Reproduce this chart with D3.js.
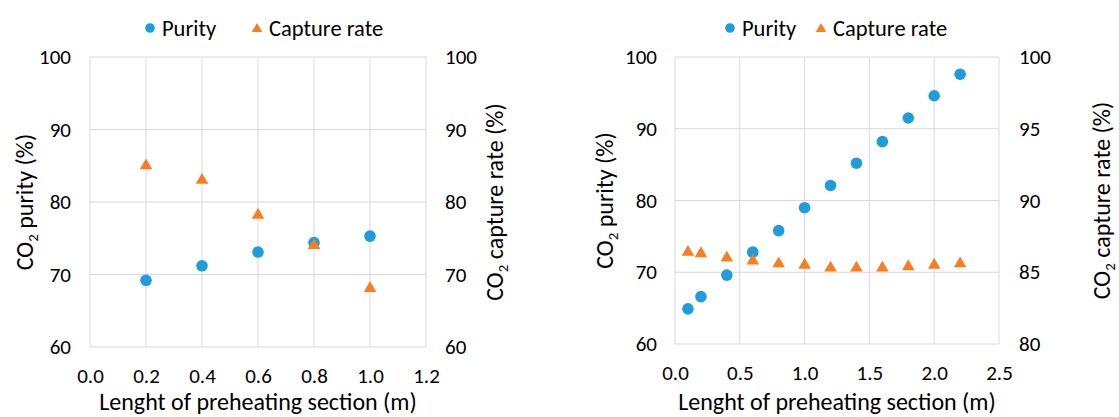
<!DOCTYPE html>
<html>
<head>
<meta charset="utf-8">
<script src="https://cdn.jsdelivr.net/npm/d3@7"></script>
<style>
  body { margin: 0; background: #fff; }
  text { font-family: Carlito, Calibri, Lato, sans-serif; fill: #000; }
</style>
</head>
<body>
<svg id="chart" width="1119" height="417"></svg>
<script>
// left panel
const leftLength = [0.2, 0.4, 0.6, 0.8, 1.0];
const leftPurity = [69.2, 71.2, 73.1, 74.4, 75.3];
const leftCapture = [85.0, 83.0, 78.2, 74.0, 68.1];
const leftXTicks = [0.0, 0.2, 0.4, 0.6, 0.8, 1.0, 1.2];
const leftYTicks = [60, 70, 80, 90, 100];
const leftY2Ticks = [60, 70, 80, 90, 100];

// right panel
const rightLength = [0.1, 0.2, 0.4, 0.6, 0.8, 1.0, 1.2, 1.4, 1.6, 1.8, 2.0, 2.2];
const rightPurity = [64.9, 66.6, 69.6, 72.8, 75.8, 79.0, 82.1, 85.2, 88.2, 91.5, 94.6, 97.6];
const rightCapture = [86.4, 86.3, 86.0, 85.8, 85.6, 85.5, 85.3, 85.3, 85.3, 85.4, 85.5, 85.6];
const rightXTicks = [0.0, 0.5, 1.0, 1.5, 2.0, 2.5];
const rightYTicks = [60, 70, 80, 90, 100];
const rightY2Ticks = [80, 85, 90, 95, 100];

const seriesNames = ["Purity", "Capture rate"];
const blue = "#1f9cdc";
const orange = "#fa7d22";
const gridColor = "#d9d9d9";

const svg = d3.select("#chart");

function co2Label(sel, rest) {
    sel.append("tspan").text("CO");
    sel.append("tspan").attr("font-size", "0.62em").attr("dy", 5).text("2");
    sel.append("tspan").attr("dy", -5).text(rest);
}

function drawPanel(opts) {
    const g = svg.append("g");
    const x = d3.scaleLinear().domain(d3.extent(opts.xTicks)).range([opts.left, opts.right]);
    const y = d3.scaleLinear().domain(d3.extent(opts.yTicks)).range([opts.bottom, opts.top]);
    const y2 = d3.scaleLinear().domain(d3.extent(opts.y2Ticks)).range([opts.bottom, opts.top]);

    // gridlines
    g.append("g").selectAll("line").data(opts.xTicks).enter().append("line")
        .attr("x1", d => x(d)).attr("x2", d => x(d))
        .attr("y1", opts.top).attr("y2", opts.bottom)
        .attr("stroke", gridColor).attr("stroke-width", 1);
    g.append("g").selectAll("line").data(opts.yTicks).enter().append("line")
        .attr("x1", opts.left).attr("x2", opts.right)
        .attr("y1", d => y(d)).attr("y2", d => y(d))
        .attr("stroke", gridColor).attr("stroke-width", 1);

    // tick labels
    const xAxis = g.append("g").attr("transform", `translate(0,${opts.bottom})`)
        .call(d3.axisBottom(x).tickValues(opts.xTicks).tickFormat(d3.format(".1f")).tickSize(0).tickPadding(21));
    const yAxis = g.append("g").attr("transform", `translate(${opts.left},0)`)
        .call(d3.axisLeft(y).tickValues(opts.yTicks).tickSize(0).tickPadding(opts.yPad));
    const y2Axis = g.append("g").attr("transform", `translate(${opts.right},0)`)
        .call(d3.axisRight(y2).tickValues(opts.y2Ticks).tickSize(0).tickPadding(opts.y2Pad));
    [xAxis, yAxis, y2Axis].forEach(a => {
        a.select(".domain").remove();
        a.selectAll("text").attr("font-size", 21).attr("font-family", null).attr("fill", "#000");
    });

    // purity (circles)
    g.append("g").selectAll("circle").data(opts.xs).enter().append("circle")
        .attr("cx", d => x(d)).attr("cy", (d, i) => y(opts.purity[i]))
        .attr("r", 5.8).attr("fill", blue);

    // capture rate (triangles, secondary axis) drawn on top
    g.append("g").selectAll("path").data(opts.xs).enter().append("path")
        .attr("d", d3.symbol().type(d3.symbolTriangle).size(68))
        .attr("transform", (d, i) => `translate(${x(d)},${y2(opts.capture[i])})`)
        .attr("fill", orange);

    // axis titles
    g.append("text")
        .attr("x", (opts.left + opts.right) / 2).attr("y", 410)
        .attr("text-anchor", "middle").attr("font-size", 24)
        .text("Lenght of preheating section (m)");
    const cy = (opts.top + opts.bottom) / 2;
    g.append("text")
        .attr("transform", `translate(${opts.yTitleX},${cy}) rotate(-90)`)
        .attr("text-anchor", "middle").attr("font-size", 24)
        .call(co2Label, " purity (%)");
    g.append("text")
        .attr("transform", `translate(${opts.y2TitleX},${cy}) rotate(-90)`)
        .attr("text-anchor", "middle").attr("font-size", 24)
        .call(co2Label, " capture rate (%)");

    // legend
    const leg = g.append("g").attr("transform", `translate(0,28)`);
    leg.append("circle").attr("cx", opts.legX).attr("cy", 0).attr("r", 4.8).attr("fill", blue);
    leg.append("text").attr("x", opts.legX + 12).attr("y", 7.5).attr("font-size", 22.5).text(seriesNames[0]);
    leg.append("path").attr("d", d3.symbol().type(d3.symbolTriangle).size(48))
        .attr("transform", `translate(${opts.legX2},1)`).attr("fill", orange);
    leg.append("text").attr("x", opts.legX2 + 12).attr("y", 7.5).attr("font-size", 22.5).text(seriesNames[1]);
}

drawPanel({
    xs: leftLength, purity: leftPurity, capture: leftCapture,
    xTicks: leftXTicks, yTicks: leftYTicks, y2Ticks: leftY2Ticks,
    left: 90, right: 426, top: 57, bottom: 347,
    yPad: 19, y2Pad: 19, yTitleX: 33, y2TitleX: 503,
    legX: 150, legX2: 257
});

drawPanel({
    xs: rightLength, purity: rightPurity, capture: rightCapture,
    xTicks: rightXTicks, yTicks: rightYTicks, y2Ticks: rightY2Ticks,
    left: 675, right: 999, top: 57, bottom: 344,
    yPad: 18, y2Pad: 20, yTitleX: 613, y2TitleX: 1110,
    legX: 730, legX2: 821
});
</script>
</body>
</html>
